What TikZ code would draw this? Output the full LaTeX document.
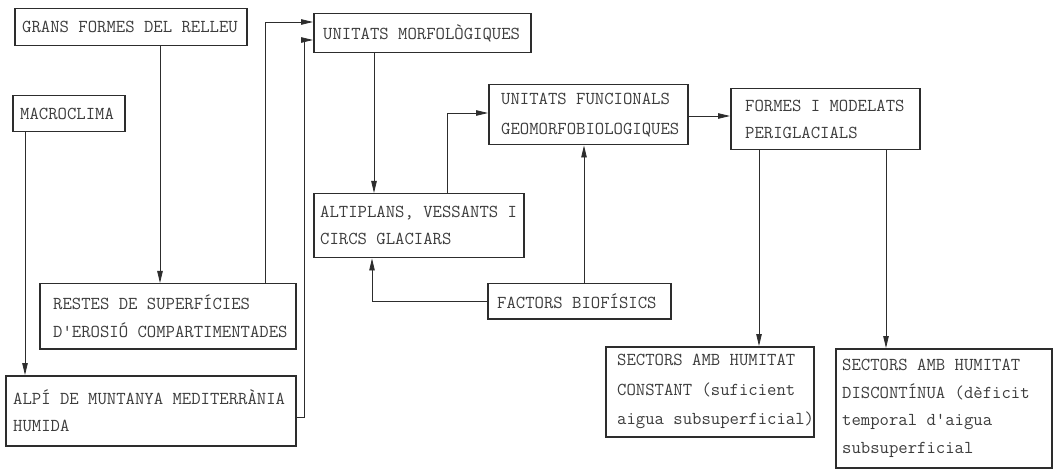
\documentclass[tikz,border=0pt]{standalone}
\usepackage{fontspec}
\usetikzlibrary{arrows.meta}
\definecolor{ink}{RGB}{45,45,45}
\definecolor{txt}{RGB}{60,60,60}
\tikzset{
  bx/.style={draw=ink, line width=1.5pt, anchor=north west, inner sep=0pt},
  tx/.style={anchor=west, align=left, inner sep=0pt, text=txt},
  ln/.style={draw=ink, line width=0.8pt},
  arr/.style={ln, -{Triangle[length=12pt,width=5.5pt]}}
}
\newcommand{\dbox}[8]{%
  \node[bx, minimum width=#4pt, minimum height=#5pt] (#1) at (#2,#3) {};
  \node[tx, font=\ttfamily\fontsize{18.2}{#7}\selectfont] (#1t) at ([xshift=#6pt]#1.west) {#8};
}
\begin{document}
\begin{tikzpicture}[x=1pt,y=-1pt]
\useasboundingbox (0,0) rectangle (1057,470);
\dbox{grans}{14}{8}{232}{37}{8}{27}{GRANS FORMES DEL RELLEU}
\dbox{macro}{12}{95}{112}{36}{8}{27}{MACROCLIMA}
\dbox{morf}{313}{13}{217}{39}{10}{27}{UNITATS MORFOLÒGIQUES}
\dbox{func}{488}{84}{199}{60}{13}{30}{UNITATS FUNCIONALS\\GEOMORFOBIOLOGIQUES}
\dbox{formes}{730}{88}{189}{61}{15}{27}{FORMES I MODELATS\\PERIGLACIALS}
\dbox{alti}{313}{193}{210}{64}{7}{27}{ALTIPLANS, VESSANTS I\\CIRCS GLACIARS}
\dbox{fact}{487}{283}{183}{35}{10}{27}{FACTORS BIOFÍSICS}
\dbox{restes}{39}{283}{256}{65}{14}{28}{RESTES DE SUPERFÍCIES\\D'EROSIÓ COMPARTIMENTADES}
\dbox{alpi}{5}{375}{290}{70}{8}{27}{ALPÍ DE MUNTANYA MEDITERRÀNIA\\HUMIDA}
\dbox{seca}{605}{346}{208}{90}{12}{29.5}{SECTORS AMB HUMITAT\\CONSTANT (suficient\\aigua subsuperficial)}
\dbox{secb}{835}{348}{216}{119}{7}{27.7}{SECTORS AMB HUMITAT\\DISCONTÍNUA (dèficit\\temporal d'aigua\\subsuperficial}
% helper coordinates
\coordinate (xa) at (160,0);
\coordinate (xb) at (25,0);
\coordinate (xc) at (265,0);
\coordinate (yc) at (0,22);
\coordinate (xd) at (304,0);
\coordinate (yd) at (0,40);
\coordinate (ya) at (0,417);
\coordinate (xe) at (374,0);
\coordinate (xf) at (447,0);
\coordinate (yf) at (0,113);
\coordinate (xg) at (584,0);
\coordinate (xh) at (372,0);
\coordinate (yk) at (0,116);
\coordinate (xm) at (759,0);
\coordinate (xn) at (886,0);
% connectors
\draw[arr] (grans.south -| xa) -- (restes.north -| xa);
\draw[arr] (macro.south -| xb) -- (alpi.north -| xb);
\draw[arr] (restes.north -| xc) -- (xc |- yc) -- (morf.west |- yc);
\draw[arr] (alpi.east |- ya) -- (xd |- ya) -- (xd |- yd) -- (morf.west |- yd);
\draw[arr] (morf.south -| xe) -- (alti.north -| xe);
\draw[arr] (alti.north -| xf) -- (xf |- yf) -- (func.west |- yf);
\draw[arr] (fact.north -| xg) -- (func.south -| xg);
\draw[arr] (fact.west) -- (xh |- fact.west) -- (alti.south -| xh);
\draw[arr] (func.east |- yk) -- (formes.west |- yk);
\draw[arr] (formes.south -| xm) -- (seca.north -| xm);
\draw[arr] (formes.south -| xn) -- (secb.north -| xn);
\end{tikzpicture}
\end{document}
